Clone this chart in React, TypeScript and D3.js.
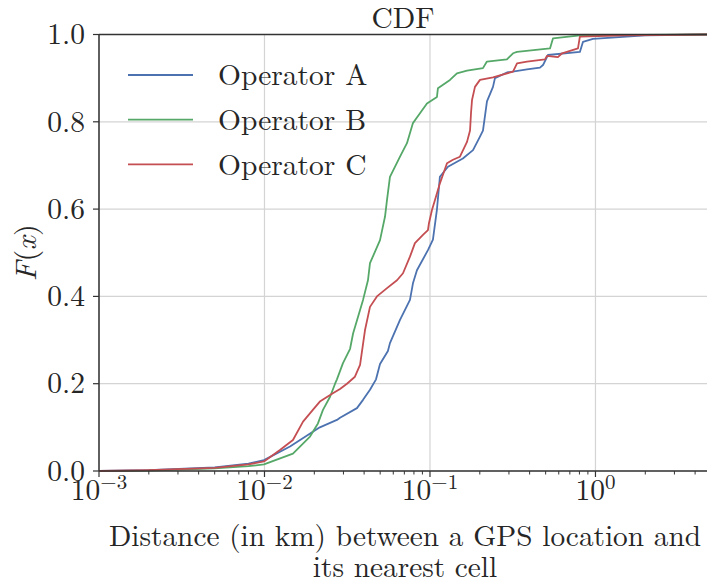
import React from "react";
import * as d3 from "d3";

const seriesNames = ["Operator A", "Operator B", "Operator C"];
const seriesColors = ["#4C72B0", "#55A868", "#C44E52"];

// [distance km, F(x)]
const opA: [number, number][] = [
  [0.001, 0.0], [0.002, 0.002], [0.005, 0.008], [0.008, 0.017], [0.00993, 0.025],
  [0.01426, 0.056], [0.0216, 0.1], [0.0274, 0.117], [0.0286, 0.122], [0.0362, 0.144],
  [0.0394, 0.163], [0.0434, 0.186], [0.0472, 0.21], [0.0499, 0.245], [0.0557, 0.275],
  [0.0573, 0.293], [0.0659, 0.346], [0.0757, 0.392], [0.0789, 0.43], [0.0834, 0.46],
  [0.0972, 0.506], [0.1042, 0.53], [0.1101, 0.598], [0.1148, 0.674], [0.1284, 0.697],
  [0.158, 0.716], [0.182, 0.735], [0.2005, 0.766], [0.209, 0.78], [0.221, 0.847],
  [0.2403, 0.88], [0.247, 0.9], [0.2918, 0.913], [0.3855, 0.92], [0.462, 0.924],
  [0.482, 0.93], [0.516, 0.953], [0.805, 0.96], [0.84, 0.983], [0.966, 0.99],
  [2.0, 0.998], [4.72, 1.0],
];

const opB: [number, number][] = [
  [0.001, 0.0], [0.002, 0.001], [0.005, 0.006], [0.008, 0.011], [0.00993, 0.015],
  [0.01486, 0.04], [0.01884, 0.079], [0.02104, 0.109], [0.02256, 0.14], [0.0249, 0.17],
  [0.0267, 0.2], [0.0274, 0.21], [0.0298, 0.247], [0.0329, 0.28], [0.0343, 0.315],
  [0.0394, 0.392], [0.0422, 0.437], [0.0434, 0.476], [0.0499, 0.529], [0.0535, 0.583],
  [0.055, 0.621], [0.0573, 0.674], [0.0659, 0.72], [0.0726, 0.751], [0.0789, 0.797],
  [0.0834, 0.81], [0.0959, 0.842], [0.1102, 0.857], [0.1117, 0.877], [0.1321, 0.896],
  [0.1455, 0.911], [0.1674, 0.917], [0.209, 0.923], [0.2208, 0.938], [0.2917, 0.943],
  [0.3176, 0.957], [0.3357, 0.96], [0.5311, 0.968], [0.5535, 0.991], [0.805, 0.998],
  [4.72, 1.0],
];

const opC: [number, number][] = [
  [0.001, 0.0], [0.002, 0.002], [0.005, 0.007], [0.008, 0.015], [0.00993, 0.022],
  [0.0124, 0.048], [0.01486, 0.071], [0.0171, 0.113], [0.0196, 0.14], [0.0216, 0.159],
  [0.0259, 0.178], [0.0286, 0.188], [0.0315, 0.2], [0.0352, 0.216], [0.0378, 0.243],
  [0.0405, 0.323], [0.0434, 0.376], [0.0478, 0.4], [0.055, 0.419], [0.0632, 0.437],
  [0.0687, 0.453], [0.0757, 0.491], [0.0811, 0.522], [0.0907, 0.541], [0.0972, 0.552],
  [0.0985, 0.567], [0.1028, 0.598], [0.1072, 0.621], [0.1148, 0.659], [0.1267, 0.705],
  [0.1377, 0.713], [0.1517, 0.72], [0.1674, 0.754], [0.1746, 0.78], [0.177, 0.82],
  [0.1795, 0.85], [0.187, 0.88], [0.2005, 0.896], [0.2404, 0.902], [0.3176, 0.915],
  [0.3357, 0.934], [0.3855, 0.938], [0.4955, 0.943], [0.509, 0.951], [0.593, 0.948],
  [0.628, 0.957], [0.784, 0.968], [0.805, 0.995], [1.5, 0.998], [4.72, 1.0],
];

const seriesData = [opA, opB, opC];
const yTicks = [0, 0.2, 0.4, 0.6, 0.8, 1.0];
const yTickLabels = ["0.0", "0.2", "0.4", "0.6", "0.8", "1.0"];
const xTickExps = [-3, -2, -1, 0];
const xDomain: [number, number] = [0.001, 4.72];

const W = 707;
const H = 586;
const m = { left: 99, right: 707, top: 34.5, bottom: 471 };
const FONT = '"Latin Modern Roman", "Liberation Serif", serif';
const TXT = "#262626";

export default function App() {
  const x = d3.scaleLog().domain(xDomain).range([m.left, m.right]);
  const y = d3.scaleLinear().domain([0, 1]).range([m.bottom, m.top]);
  const line = d3
    .line<[number, number]>()
    .x((d) => x(d[0]))
    .y((d) => y(d[1]));

  const minor: number[] = [];
  for (let e = -3; e <= 0; e++) {
    for (let k = 2; k <= 9; k++) {
      const v = k * Math.pow(10, e);
      if (v <= xDomain[1]) minor.push(v);
    }
  }

  return (
    <svg
      width={W}
      height={H}
      style={{ position: "absolute", left: 0, top: 0, background: "#fff", fontFamily: FONT }}
    >
      <defs>
        <clipPath id="plotclip">
          <rect x={m.left} y={m.top - 2} width={m.right - m.left} height={m.bottom - m.top + 4} />
        </clipPath>
      </defs>
      {/* grid */}
      {yTicks.map((t) => (
        <line key={"gy" + t} x1={m.left} x2={m.right} y1={y(t)} y2={y(t)} stroke="#d4d4d4" strokeWidth={1.2} />
      ))}
      {xTickExps.map((e) => (
        <line key={"gx" + e} x1={x(Math.pow(10, e))} x2={x(Math.pow(10, e))} y1={m.top} y2={m.bottom} stroke="#d4d4d4" strokeWidth={1.2} />
      ))}
      {/* lines */}
      <g clipPath="url(#plotclip)">
        {seriesData.map((s, i) => (
          <path key={i} d={line(s) || ""} fill="none" stroke={seriesColors[i]} strokeWidth={1.8} strokeLinejoin="round" />
        ))}
      </g>
      {/* spines */}
      <line x1={m.left} x2={m.right} y1={m.top} y2={m.top} stroke="#333" strokeWidth={1.5} />
      <line x1={m.left} x2={m.right} y1={m.bottom} y2={m.bottom} stroke="#333" strokeWidth={1.5} />
      <line x1={m.left} x2={m.left} y1={m.top} y2={m.bottom} stroke="#333" strokeWidth={1.5} />
      {/* y ticks */}
      {yTicks.map((t, i) => (
        <g key={"yt" + t}>
          <line x1={m.left - 6} x2={m.left} y1={y(t)} y2={y(t)} stroke="#333" strokeWidth={1.2} />
          <text x={m.left - 14} y={y(t)} dy="0.33em" textAnchor="end" fontSize={29.5} fill={TXT}>
            {yTickLabels[i]}
          </text>
        </g>
      ))}
      {/* x ticks */}
      {xTickExps.map((e) => (
        <g key={"xt" + e}>
          <line x1={x(Math.pow(10, e))} x2={x(Math.pow(10, e))} y1={m.bottom} y2={m.bottom + 6} stroke="#333" strokeWidth={1.2} />
          <text x={x(Math.pow(10, e))} y={m.bottom + 29} textAnchor="middle" fontSize={29.5} fill={TXT}>
            <tspan>10</tspan>
            <tspan dy={-11} fontSize={21}>{e === 0 ? "0" : "\u2212" + Math.abs(e)}</tspan>
          </text>
        </g>
      ))}
      {minor.map((v, i) => (
        <line key={"mt" + i} x1={x(v)} x2={x(v)} y1={m.bottom} y2={m.bottom + 3.5} stroke="#333" strokeWidth={1} />
      ))}
      {/* title */}
      <text x={(m.left + m.right) / 2} y={28} textAnchor="middle" fontSize={29.5} fill={TXT}>
        CDF
      </text>
      {/* x label */}
      <text x={405} y={546} textAnchor="middle" fontSize={29.3} fill={TXT}>
        Distance (in km) between a GPS location and
      </text>
      <text x={405} y={577} textAnchor="middle" fontSize={29.3} fill={TXT}>
        its nearest cell
      </text>
      {/* y label */}
      <text transform={`translate(36, ${(m.top + m.bottom) / 2}) rotate(-90)`} textAnchor="middle" fontSize={30} fill={TXT}>
        <tspan fontStyle="italic">F</tspan>
        <tspan>(</tspan>
        <tspan fontStyle="italic">x</tspan>
        <tspan>)</tspan>
      </text>
      {/* legend */}
      {seriesNames.map((n, i) => (
        <g key={"lg" + n}>
          <line x1={128} x2={193} y1={75 + i * 44.7} y2={75 + i * 44.7} stroke={seriesColors[i]} strokeWidth={1.8} />
          <text x={218} y={75 + i * 44.7} dy="0.35em" fontSize={29.5} fill={TXT}>
            {n}
          </text>
        </g>
      ))}
    </svg>
  );
}
